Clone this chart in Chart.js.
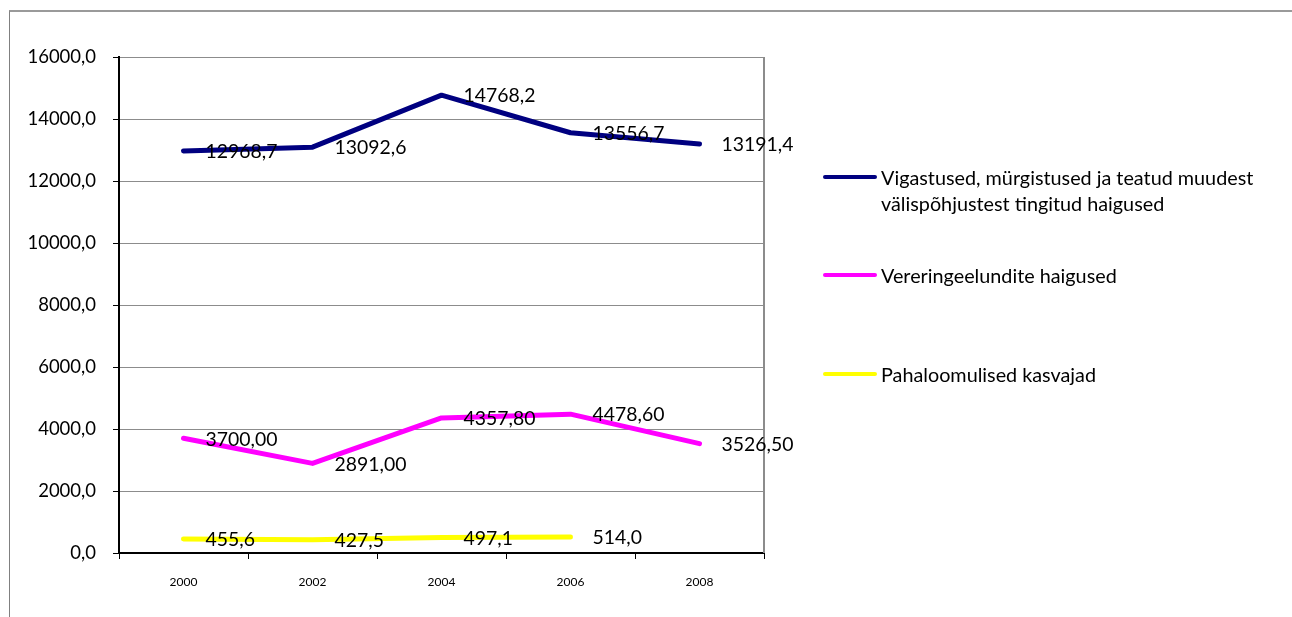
<!DOCTYPE html>
<html>
<head>
<meta charset="utf-8">
<script src="https://cdn.jsdelivr.net/npm/chart.js@4.4.1/dist/chart.umd.min.js"></script>
<style>
  html, body { margin: 0; padding: 0; background: #fff; }
  body { width: 1292px; height: 617px; position: relative; overflow: hidden; font-family: Lato, sans-serif; }
  #frame { position: absolute; left: 9px; top: 10px; width: 1400px; height: 700px; border-top: 2px solid #9a9a9a; border-left: 1px solid #808080; }
  #wrap { position: absolute; left: 0; top: 0; width: 1292px; height: 617px; }
  #legend { position: absolute; left: 823px; top: 0; }
  .item { position: absolute; left: 0; width: 460px; font-size: 19.8px; line-height: 26px; color: #000; }
  .item .swatch { position: absolute; left: 0; top: 11px; width: 54px; height: 4px; border-radius: 2px; }
  .item .txt { margin-left: 58px; white-space: nowrap; }
</style>
</head>
<body>
<div id="frame"></div>
<div id="wrap"><canvas id="chart" width="1292" height="617"></canvas></div>
<div id="legend"></div>
<script>
// andmed
const years = ['2000', '2002', '2004', '2006', '2008'];
const injuries = [12968.7, 13092.6, 14768.2, 13556.7, 13191.4];
const circulatory = [3700.0, 2891.0, 4357.8, 4478.6, 3526.5];
const neoplasms = [455.6, 427.5, 497.1, 514.0, null];
const yTicks = [0, 2000, 4000, 6000, 8000, 10000, 12000, 14000, 16000];

const seriesNames = [
  ['Vigastused, mürgistused ja teatud muudest', 'välispõhjustest tingitud haigused'],
  ['Vereringeelundite haigused'],
  ['Pahaloomulised kasvajad']
];
const seriesColors = ['#000080', '#ff00ff', '#ffff00'];
const seriesDecimals = [1, 2, 1];
const legendTops = [164, 262, 361];

const fmt = (v, d) => v.toFixed(d).replace('.', ',');
const FONT = 'Lato, sans-serif';

// andmesildid punktidest paremal
const valueLabels = {
  id: 'valueLabels',
  afterDatasetsDraw(chart) {
    const ctx = chart.ctx;
    ctx.save();
    ctx.beginPath();
    ctx.rect(0, 0, chart.chartArea.right + 29, chart.height);
    ctx.clip();
    ctx.font = '19.4px ' + FONT;
    ctx.fillStyle = '#000';
    ctx.textAlign = 'left';
    ctx.textBaseline = 'middle';
    chart.data.datasets.forEach((ds, i) => {
      const meta = chart.getDatasetMeta(i);
      meta.data.forEach((pt, j) => {
        const v = ds.data[j];
        if (v === null || v === undefined) return;
        ctx.fillText(fmt(v, seriesDecimals[i]), pt.x + 22, pt.y + 1);
      });
    });
    ctx.restore();
  }
};

// parem raam joonisala ümber
const rightBorder = {
  id: 'rightBorder',
  beforeDatasetsDraw(chart) {
    const { ctx, chartArea } = chart;
    ctx.save();
    ctx.strokeStyle = '#8c8c8c';
    ctx.lineWidth = 2;
    ctx.beginPath();
    ctx.moveTo(chartArea.right, chartArea.top);
    ctx.lineTo(chartArea.right, chartArea.bottom);
    ctx.stroke();
    ctx.restore();
  }
};

const datasets = [injuries, circulatory, neoplasms].map((arr, i) => ({
  label: seriesNames[i].join(' '),
  data: arr,
  borderColor: seriesColors[i],
  backgroundColor: seriesColors[i],
  borderWidth: 5,
  borderCapStyle: 'round',
  borderJoinStyle: 'round',
  pointRadius: 0,
  tension: 0,
  spanGaps: false
}));

new Chart(document.getElementById('chart'), {
  type: 'line',
  data: { labels: years, datasets: datasets },
  options: {
    responsive: false,
    animation: false,
    events: [],
    layout: { padding: { left: 0, top: 57, right: 528, bottom: 0 } },
    plugins: { legend: { display: false }, tooltip: { enabled: false } },
    scales: {
      x: {
        type: 'category',
        offset: true,
        afterFit: (s) => { s.height = 64; },
        border: { color: '#000', width: 2 },
        grid: { offset: true, drawOnChartArea: false, drawTicks: true, tickLength: 6, tickColor: '#000', tickWidth: 1 },
        ticks: { color: '#000', font: { family: FONT, size: 12 }, padding: 16, maxRotation: 0 }
      },
      y: {
        min: 0,
        max: 16000,
        afterFit: (s) => { s.width = 119; },
        afterBuildTicks: (s) => { s.ticks = yTicks.map(v => ({ value: v })); },
        border: { color: '#000', width: 2 },
        grid: { color: '#8c8c8c', lineWidth: 1, tickLength: 6, tickColor: '#000' },
        ticks: {
          color: '#000',
          font: { family: FONT, size: 18.5 },
          padding: 17,
          callback: (v) => fmt(v, 1)
        }
      }
    }
  },
  plugins: [rightBorder, valueLabels]
});

// legend
const legend = document.getElementById('legend');
seriesNames.forEach((lines, i) => {
  const item = document.createElement('div');
  item.className = 'item';
  item.style.top = legendTops[i] + 'px';
  item.innerHTML = '<div class="swatch" style="background:' + seriesColors[i] + '"></div>' +
    '<div class="txt">' + lines.join('<br>') + '</div>';
  legend.appendChild(item);
});
</script>
</body>
</html>
